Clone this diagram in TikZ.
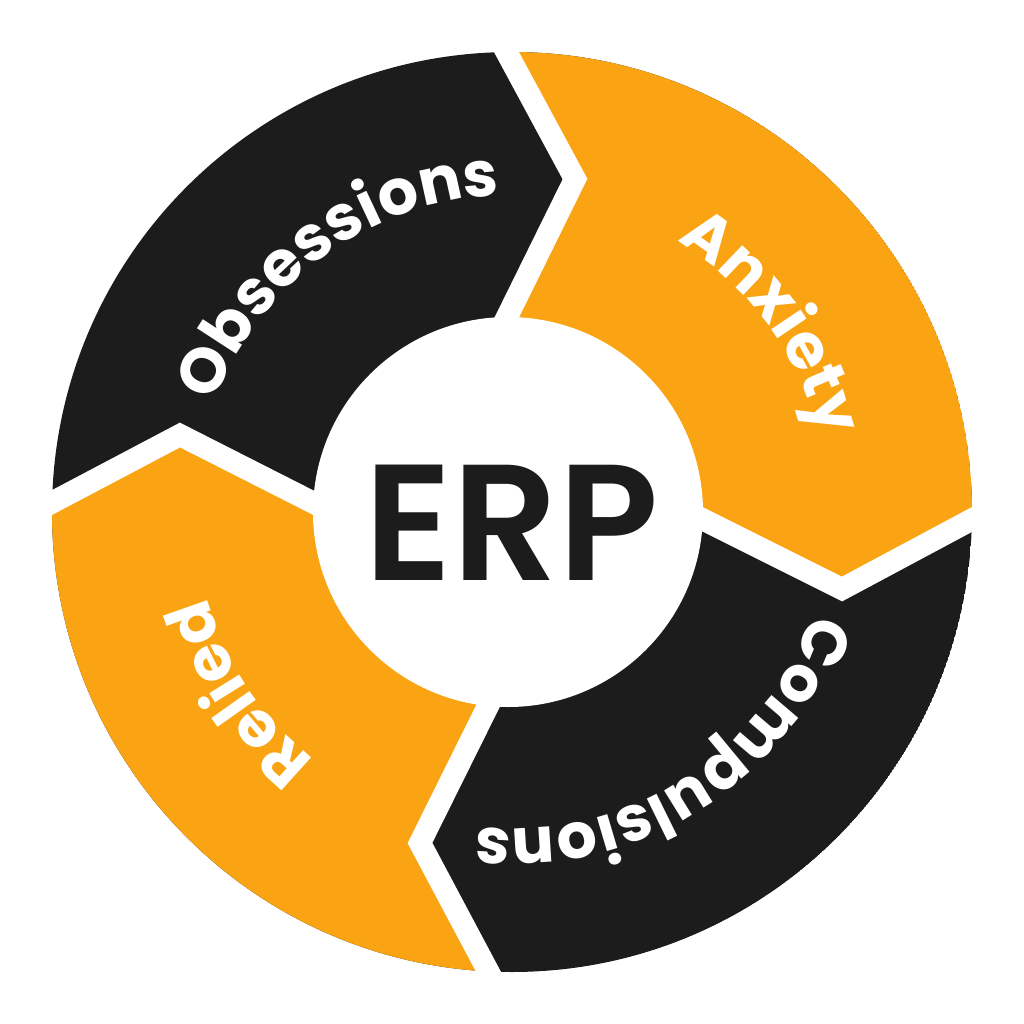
\documentclass[tikz,border=0pt]{standalone}
\usepackage{fontspec}
\usetikzlibrary{calc,decorations.text}
\newfontfamily\labelfont{Poppins}[BoldFont={* Bold}]
\newfontfamily\erpfont{Poppins}[UprightFont={* SemiBold}]
\definecolor{ink}{RGB}{28,28,28}
\definecolor{amber}{RGB}{251,164,19}
\begin{document}
\begin{tikzpicture}[
    ring/.style={fill=ink},
    wedge/.style={fill=amber},
    gap/.style={draw=white, line width=2.2mm, line join=miter, miter limit=10},
    lbl/.style={decorate, decoration={text along path, text align=center,
        text={|\labelfont\bfseries\fontsize{18}{18}\selectfont\color{white}|#1}}}
]
    \fill[white] (-5.12,-5.12) rectangle (5.12,5.12);
    \useasboundingbox (-5.12,-5.12) rectangle (5.12,5.12);
    % chevron corners: inner end, tip, outer end
    \coordinate (tI) at (-0.05, 1.95);
    \coordinate (tT) at (0.63, 3.33);
    \coordinate (tO) at (-0.05, 4.59);
    \coordinate (rI) at (1.92, -0.08);
    \coordinate (rT) at (3.30, -0.77);
    \coordinate (rO) at (4.59, -0.08);
    \coordinate (bI) at (-0.24, -1.94);
    \coordinate (bT) at (-0.92, -3.31);
    \coordinate (bO) at (-0.25, -4.57);
    \coordinate (lI) at (-2.00, 0.10);
    \coordinate (lT) at (-3.32, 0.77);
    \coordinate (lO) at (-4.59, 0.10);
    \begin{scope}
        \clip (0,0) circle[radius=4.6];
        \fill[ring] (0,0) circle[radius=4.6];
        \fill[wedge] ($(tT)!1.3!(tO)$) -- (tT) -- ($(tT)!1.5!(tI)$)
            -- ($(rT)!1.5!(rI)$) -- (rT) -- ($(rT)!1.3!(rO)$) -- (6,6) -- cycle;
        \fill[wedge] ($(lT)!1.3!(lO)$) -- (lT) -- ($(lT)!1.5!(lI)$)
            -- ($(bT)!1.5!(bI)$) -- (bT) -- ($(bT)!1.3!(bO)$) -- (-6,-6) -- cycle;
    \end{scope}
    \fill[white] (-0.04,0) circle[radius=1.95];
    % white gaps
    \foreach \c in {t,r,b,l}
        \draw[gap] ($(\c T)!1.5!(\c I)$) -- (\c T) -- ($(\c T)!1.3!(\c O)$);
    \node[font=\erpfont\fontsize{47}{47}\selectfont, text=ink] (erp) at (0,-0.11) {ERP};
    % curved labels
    \path[lbl=Obsessions] (201:3.17) arc[start angle=201, end angle=51, radius=3.17];
    \path[lbl=Anxiety] (111:3.17) arc[start angle=111, end angle=-39, radius=3.17];
    \path[lbl=Compulsions] (17.5:3.17) arc[start angle=17.5, end angle=-132.5, radius=3.17];
    \path[lbl=Relied] (-71.5:3.17) arc[start angle=-71.5, end angle=-221.5, radius=3.17];
\end{tikzpicture}
\end{document}
